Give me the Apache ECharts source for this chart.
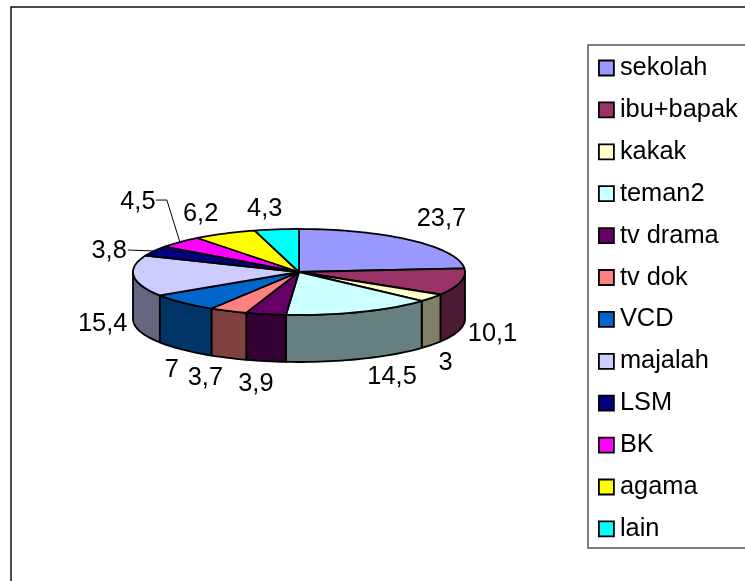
<!DOCTYPE html>
<html>
<head>
<meta charset="utf-8">
<style>
  html, body { margin: 0; padding: 0; background: #fff; }
  #chart { width: 745px; height: 581px; }
</style>
<script src="https://cdn.jsdelivr.net/npm/echarts@6/dist/echarts.min.js"></script>
</head>
<body>
<div id="chart"></div>
<script>
const categories = ['sekolah', 'ibu+bapak', 'kakak', 'teman2', 'tv drama', 'tv dok', 'VCD', 'majalah', 'LSM', 'BK', 'agama', 'lain']
const values = [23.7, 10.1, 3, 14.5, 3.9, 3.7, 7, 15.4, 3.8, 4.5, 6.2, 4.3]
const colors = ['#9999FF', '#993366', '#FFFFCC', '#CCFFFF', '#660066', '#FF8080', '#0066CC', '#CCCCFF', '#000080', '#FF00FF', '#FFFF00', '#00FFFF']

// label position relative to the rim point at the middle of each slice
const labelOffsets = [[30, -21], [32, 52], [14, 65], [32, 65], [-10, 70], [-23, 67], [-11, 67], [-31, 48], [-45, 0], [-42, -40], [-24, -20], [-12, -20]]
// leader lines (LSM and BK only), same relative coordinates
const leaders = {8: [[-26, -1]], 9: [[-24, -42], [-13, -42]]}

const pie = {cx: 299, cy: 272, rx: 166, ry: 43, depth: 47}
const total = values.reduce((a, b) => a + b, 0)

const rim = (deg, drop = 0) => {
  const t = deg * Math.PI / 180
  return [pie.cx + pie.rx * Math.sin(t), pie.cy - pie.ry * Math.cos(t) + drop]
}

const arc = (from, to, drop = 0) => {
  const pts = []
  const steps = Math.max(2, Math.ceil((to - from) / 2))
  for (let i = 0; i <= steps; i++) pts.push(rim(from + (to - from) * i / steps, drop))
  return pts
}

// one slice: wall (front half only), top face, value label and leader
const renderSlice = (index) => (params, api) => {
  let before = 0
  for (let i = 0; i < index; i++) before += values[i]
  const start = before / total * 360
  const end = start + api.value(0) / total * 360
  const mid = rim((start + end) / 2)
  const color = colors[index]
  const line = {stroke: '#000', lineWidth: 1.8, lineJoin: 'round'}
  const children = []

  const wallFrom = Math.max(start, 90)
  const wallTo = Math.min(end, 270)
  if (wallTo > wallFrom) {
    children.push({
      type: 'polygon',
      z2: 1,
      shape: {points: arc(wallFrom, wallTo).concat(arc(wallFrom, wallTo, pie.depth).reverse())},
      style: {fill: echarts.color.lerp(0.5, ['#000000', color]), ...line}
    })
  }

  children.push({
    type: 'polygon',
    z2: 10,
    shape: {points: [[pie.cx, pie.cy]].concat(arc(start, end))},
    style: {fill: color, ...line}
  })

  const off = labelOffsets[index]
  children.push({
    type: 'text',
    z2: 20,
    style: {
      x: mid[0] + off[0],
      y: mid[1] + off[1],
      text: String(values[index]).replace('.', ','),
      fill: '#000',
      font: '25.4px "Liberation Sans", Arial, sans-serif',
      align: 'center',
      verticalAlign: 'middle'
    }
  })

  if (leaders[index]) {
    children.push({
      type: 'polyline',
      z2: 20,
      shape: {points: leaders[index].map(p => [mid[0] + p[0], mid[1] + p[1]]).concat([mid])},
      style: {stroke: '#000', lineWidth: 1, fill: 'none'}
    })
  }
  return {type: 'group', children}
}

const chart = echarts.init(document.getElementById('chart'))
chart.setOption({
  animation: false,
  color: colors,
  graphic: [
    {type: 'rect', shape: {x: 11, y: 7, width: 800, height: 700}, style: {fill: 'none', stroke: '#111', lineWidth: 1.5}},
    {type: 'rect', shape: {x: 588, y: 45, width: 300, height: 503}, style: {fill: 'none', stroke: '#555', lineWidth: 1.5}}
  ],
  legend: {
    orient: 'vertical',
    left: 598,
    top: 51.5,
    height: 520,
    padding: 0,
    itemWidth: 15,
    itemHeight: 15,
    itemGap: 8.9,
    selectedMode: false,
    icon: 'rect',
    itemStyle: {borderColor: '#000', borderWidth: 1.8},
    textStyle: {
      fontFamily: '"Liberation Sans", Arial, sans-serif',
      fontSize: 25.4,
      lineHeight: 15,
      padding: [0, 0, 18, 1],
      color: '#000'
    },
    data: categories
  },
  series: categories.map((name, i) => ({
    name,
    type: 'custom',
    coordinateSystem: 'none',
    silent: true,
    itemStyle: {color: colors[i]},
    renderItem: renderSlice(i),
    data: [[values[i]]]
  }))
})
</script>
</body>
</html>
